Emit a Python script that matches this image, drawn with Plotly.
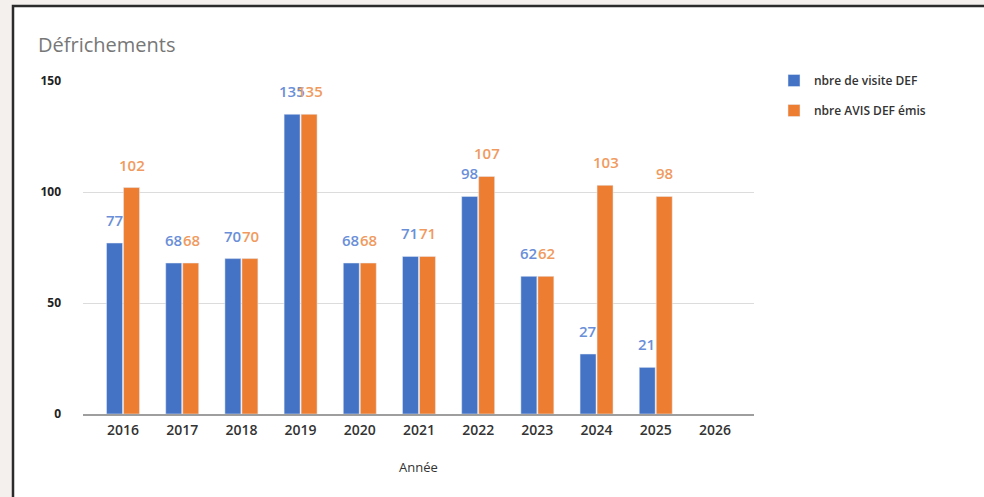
import plotly.graph_objects as go

years = ["2016", "2017", "2018", "2019", "2020", "2021", "2022", "2023", "2024", "2025", "2026"]
visites = [77, 68, 70, 135, 68, 71, 98, 62, 27, 21, None]
avis = [102, 68, 70, 135, 68, 71, 107, 62, 103, 98, None]

BLUE = "#4472c4"
ORANGE = "#ed7d31"
BLUE_TXT = "#6a8fd8"
ORANGE_TXT = "#f09a60"

fig = go.Figure()
fig.add_trace(go.Bar(x=years, y=visites, name="nbre de visite DEF", marker_color=BLUE,
                     legendgroup="a"))
fig.add_trace(go.Bar(x=years, y=avis, name="nbre AVIS DEF émis", marker_color=ORANGE,
                     legendgroup="b"))

annotations = []
for series, color, shift in ((visites, BLUE_TXT, -9), (avis, ORANGE_TXT, 9)):
    for i, v in enumerate(series):
        if v is None:
            continue
        annotations.append(dict(x=i, y=v, xref="x", yref="y", text=str(v), showarrow=False,
                                xshift=shift, yshift=23, yanchor="middle", xanchor="center",
                                font=dict(size=15, color=color, family="Open Sans", weight=600)))

L, R, T, B = 83, 230, 81, 83
W, H = 984, 497
pw = W - L - R
ph = H - T - B

def px(p):
    return (p - L) / pw

def py(q):
    return (H - B - q) / ph

fig.update_layout(
    width=W, height=H,
    margin=dict(l=L, r=R, t=T, b=B),
    paper_bgcolor="#f3f0ee",
    plot_bgcolor="rgba(0,0,0,0)",
    font=dict(family="Open Sans", color="#333333"),
    barmode="group", bargap=0.426, bargroupgap=0.06,
    title=dict(text="Défrichements", x=38 / W, xanchor="left", y=1 - 45 / H, yanchor="middle",
               font=dict(size=20, color="#777777", family="Open Sans")),
    legend=dict(x=px(774), y=py(66), xanchor="left", yanchor="top",
                font=dict(size=12, color="#333333", weight=600), traceorder="grouped",
                tracegroupgap=11, bgcolor="rgba(0,0,0,0)", itemwidth=30),
    annotations=annotations,
    shapes=[dict(type="rect", xref="paper", yref="paper", layer="below",
                 x0=px(13), x1=px(1010), y0=py(6), y1=py(530),
                 fillcolor="white", line=dict(color="#2b2b2b", width=2.5))],
)
fig.update_xaxes(
    type="category", range=[-0.676, 10.66], categoryorder="array", categoryarray=years,
    showgrid=False, showline=True, linecolor="#9e9e9e", linewidth=2,
    tickfont=dict(size=14, color="#333333", weight=600), ticks="", ticklabelstandoff=2,
    title=dict(text="Année", font=dict(size=13, color="#333333"), standoff=25),
)
fig.update_yaxes(
    range=[0, 150], tickvals=[0, 50, 100, 150], showgrid=True, gridcolor="#dcdcdc",
    zeroline=False, showline=False, ticks="", ticklabelstandoff=21,
    tickfont=dict(size=12, color="#222222", family="Open Sans", weight="bold"),
)

fig.write_html("out.html", config={"displayModeBar": False},
               post_script="document.body.style.margin='0';document.body.style.overflow='hidden';")
